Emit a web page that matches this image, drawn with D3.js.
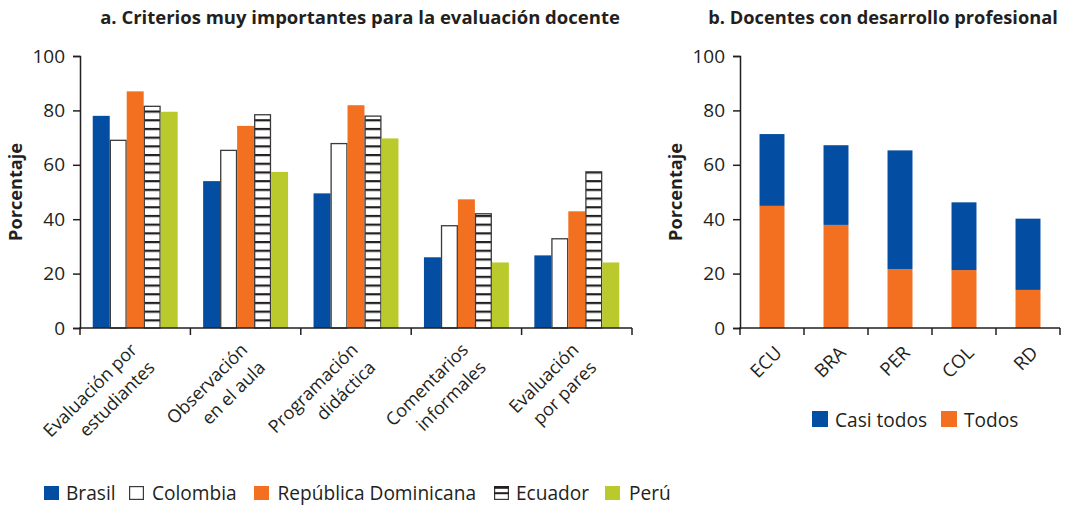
<!DOCTYPE html>
<html><head><meta charset="utf-8">
<script src="https://cdn.jsdelivr.net/npm/d3@7"></script>
<style>
body{margin:0;background:#fff}
svg{display:block}
text{font-family:"Open Sans",sans-serif;fill:#231f20}
</style>
</head><body><svg id="c" width="1071" height="508"></svg>
<script>
// ---- data ----
const criteria = [["Evaluación por","estudiantes"],["Observación","en el aula"],["Programación","didáctica"],["Comentarios","informales"],["Evaluación","por pares"]];
const countries = ["Brasil","Colombia","República Dominicana","Ecuador","Perú"];
const brasil = [78, 54, 49.5, 26, 26.7];
const colombia = [69, 65.3, 67.8, 37.6, 32.8];
const repDominicana = [87, 74.3, 81.9, 47.3, 42.9];
const ecuador = [81.5, 78.4, 77.9, 42, 57.4];
const peru = [79.5, 57.4, 69.7, 24.1, 24.1];
const yTicks = [0, 20, 40, 60, 80, 100];
const devCountries = ["ECU","BRA","PER","COL","RD"];
const todos = [44.9, 37.9, 21.7, 21.3, 14];
const casiTodos = [26.4, 29.3, 43.6, 24.9, 26.2];
const devSeries = ["Casi todos","Todos"];

const titleA = "a. Criterios muy importantes para la evaluación docente";
const titleB = "b. Docentes con desarrollo profesional";
const yLabel = "Porcentaje";

// ---- styles ----
const BLUE = "#034ea2", ORANGE = "#f37021", GREEN = "#bac92b", INK = "#231f20";
const seriesVals = [brasil, colombia, repDominicana, ecuador, peru];

function fit(sel, target){
  const w = sel.node().getComputedTextLength();
  const fs = parseFloat(sel.attr("font-size"));
  if (w > 0) sel.attr("font-size", (fs*target/w).toFixed(2));
  return sel;
}

const svg = d3.select("#c");
const defs = svg.append("defs");
const pat = defs.append("pattern").attr("id","stripes").attr("patternUnits","userSpaceOnUse")
  .attr("width", 20).attr("height", 8.7).attr("y", 328);
pat.append("rect").attr("width",20).attr("height",8.7).attr("fill","#fff");
pat.append("rect").attr("y",0).attr("width",20).attr("height",2.2).attr("fill",INK);

function fillFor(i){ return [BLUE, "#fff", ORANGE, "url(#stripes)", GREEN][i]; }
function strokeFor(i){ return (i===1||i===3) ? "#3a3a3a" : "none"; }

const yTop = 56, yBot = 328;
const y = d3.scaleLinear().domain([0,100]).range([yBot, yTop]);

// ===== Chart a =====
const gA = svg.append("g");
const x0 = d3.scaleBand().domain(d3.range(criteria.length)).range([80, 632]).padding(0);
const x1 = d3.scaleBand().domain(countries).range([0, x0.bandwidth()]).paddingInner(0).paddingOuter(0.75);

gA.append("g").selectAll("g").data(d3.range(criteria.length)).join("g")
  .attr("transform", d => `translate(${x0(d)},0)`)
  .selectAll("rect").data(d => countries.map((c,i) => ({c, i, v: seriesVals[i][d]}))).join("rect")
  .attr("x", d => x1(d.c) + ((d.i===1||d.i===3)?0.6:0))
  .attr("width", d => x1.bandwidth() - ((d.i===1||d.i===3)?1.2:0))
  .attr("y", d => y(d.v))
  .attr("height", d => yBot - y(d.v))
  .attr("fill", d => fillFor(d.i))
  .attr("stroke", d => strokeFor(d.i))
  .attr("stroke-width", 1.3);

function yAxis(g, x0px){
  const ax = g.append("g").attr("transform", `translate(${x0px},0)`)
    .call(d3.axisLeft(y).tickValues(yTicks).tickSize(7).tickPadding(8).tickFormat(d3.format("d")));
  ax.select(".domain").attr("stroke", INK).attr("stroke-width",1.5);
  ax.selectAll(".tick line").attr("stroke", INK).attr("stroke-width",1.5);
  ax.selectAll(".tick text").attr("font-size",19).attr("font-family","Open Sans").attr("fill",INK);
}
function xAxisLine(g, scale, step, pi){
  const r = scale.range();
  g.append("line").attr("x1", r[0]-0.75).attr("x2", r[1]).attr("y1", yBot).attr("y2", yBot)
    .attr("stroke", INK).attr("stroke-width",1.5);
  const bounds = scale.domain().map(d => scale(d) - step*pi/2).concat([r[1]]);
  g.selectAll("line.xt").data(bounds).join("line").attr("class","xt")
    .attr("x1", d=>d).attr("x2", d=>d).attr("y1", yBot).attr("y2", yBot+7)
    .attr("stroke", INK).attr("stroke-width",1.5);
}
yAxis(gA, 80);
xAxisLine(gA, x0, x0.step(), 0);

// category labels (rotated)
gA.selectAll("text.cat").data(criteria).join("text").attr("class","cat")
  .attr("transform", (d,i) => `translate(${x0(i)+x0.bandwidth()/2+3},${yBot+23}) rotate(-45)`)
  .attr("text-anchor","end").attr("font-size",18)
  .each(function(d){
    const t = d3.select(this);
    t.append("tspan").attr("x",0).attr("dy",0).text(d[0]);
    t.append("tspan").attr("x",0).attr("dy",25).text(d[1]);
  });

fit(gA.append("text").attr("x", 360).attr("y", 24).attr("text-anchor","middle")
  .attr("font-size",16).attr("font-weight","bold").text(titleA), 520);
fit(gA.append("text").attr("transform","translate(22,192) rotate(-90)").attr("text-anchor","middle")
  .attr("font-size",16).attr("font-weight","bold").text(yLabel), 98);

// legend a
const legA = [
  {i:0, sx:44, tx:66}, {i:1, sx:129, tx:152}, {i:2, sx:254, tx:277.5}, {i:3, sx:494, tx:516}, {i:4, sx:605, tx:629}
];
const lg = gA.append("g");
const probe = lg.append("text").attr("font-size",18).text(countries[2]);
fit(probe, 198.5);
const legFs = probe.attr("font-size");
probe.remove();
legA.forEach(l => {
  if (l.i === 3){
    lg.append("rect").attr("x",l.sx+0.6).attr("y",486.6).attr("width",13.8).attr("height",12.8)
      .attr("fill","#fff").attr("stroke","#3a3a3a").attr("stroke-width",1.2);
    lg.append("rect").attr("x",l.sx).attr("y",486).attr("width",15).attr("height",2.8).attr("fill",INK);
    lg.append("rect").attr("x",l.sx).attr("y",492.2).attr("width",15).attr("height",2).attr("fill",INK);
  } else {
    lg.append("rect").attr("x",l.sx+(l.i===1?0.6:0)).attr("y",486+(l.i===1?0.6:0))
      .attr("width",l.i===1?13.8:15).attr("height",l.i===1?12.8:14)
      .attr("fill", l.i===1?"#fff":fillFor(l.i)).attr("stroke", strokeFor(l.i)).attr("stroke-width",1.2);
  }
  lg.append("text").attr("x", l.tx).attr("y", 500).attr("font-size",legFs).text(countries[l.i]);
});

// ===== Chart b =====
const gB = svg.append("g");
const xb = d3.scaleBand().domain(devCountries).range([740,1060]).paddingInner(0.61).paddingOuter(0.305);
const rows = devCountries.map((c,i) => ({c, "Todos": todos[i], "Casi todos": casiTodos[i]}));
const stack = d3.stack().keys(["Todos","Casi todos"])(rows);
const colorB = {"Todos": ORANGE, "Casi todos": BLUE};
gB.selectAll("g.s").data(stack).join("g").attr("class","s").attr("fill", d => colorB[d.key])
  .selectAll("rect").data(d => d).join("rect")
  .attr("x", d => xb(d.data.c)).attr("width", xb.bandwidth())
  .attr("y", d => y(d[1])).attr("height", d => y(d[0]) - y(d[1]));

yAxis(gB, 740);
xAxisLine(gB, xb, xb.step(), 0.61);

gB.selectAll("text.cat").data(devCountries).join("text").attr("class","cat")
  .attr("transform", d => `translate(${xb(d)+xb.bandwidth()/2+11},${yBot+26}) rotate(-45)`)
  .attr("text-anchor","end").attr("font-size",18.5).text(d=>d);

fit(gB.append("text").attr("x", 883).attr("y", 24).attr("text-anchor","middle")
  .attr("font-size",16).attr("font-weight","bold").text(titleB), 350);
fit(gB.append("text").attr("transform","translate(682,192) rotate(-90)").attr("text-anchor","middle")
  .attr("font-size",16).attr("font-weight","bold").text(yLabel), 98);

const legB = [{k:"Casi todos", sx:812, tx:835}, {k:"Todos", sx:941, tx:964}];
legB.forEach(l => {
  gB.append("rect").attr("x",l.sx).attr("y",411).attr("width",16).attr("height",16).attr("fill",colorB[l.k]);
  gB.append("text").attr("x",l.tx).attr("y",427).attr("font-size",legFs).text(l.k);
});
</script></body></html>
